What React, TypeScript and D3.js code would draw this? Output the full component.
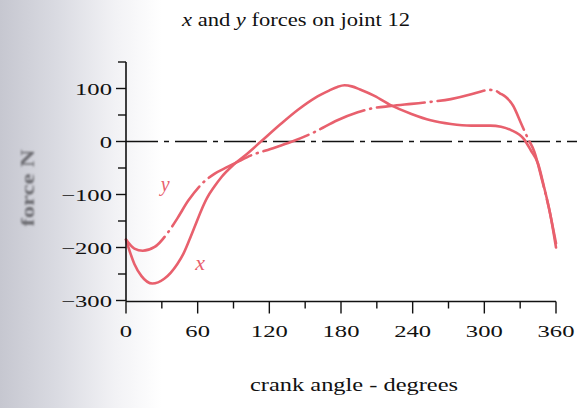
import React from 'react';
import * as d3 from 'd3';

// crank angle (deg) and force (N)
const xAngles = [0, 7, 13, 22, 32, 43, 48, 53, 58, 63, 68, 74, 80, 90, 102, 113, 130, 144, 158, 170, 177, 183, 189, 196, 208, 222, 239, 255, 272, 289, 305, 314, 322, 333, 339, 345, 350, 355, 360];
const xForce = [-185, -231, -254, -268, -259, -231, -212, -186, -158, -130, -106, -85, -67, -44, -22, 0, 34, 60, 82, 96, 103, 106, 104, 98, 86, 68, 52, 40, 33, 30, 30, 28, 22, 5, -17, -42, -86, -135, -200];

const yAngles = [0, 7, 14, 24, 35, 43, 52, 63, 74, 85, 93, 105, 121, 138, 158, 177, 194, 205, 222, 239, 256, 272, 289, 298, 304, 309, 313, 318, 324, 331, 336, 342, 348, 354, 360];
const yForce = [-185, -202, -206, -199, -172, -145, -112, -81, -61, -48, -39, -26, -14, -1, 18, 40, 55, 62, 67, 71, 75, 80, 89, 95, 97.5, 96, 91, 84, 68, 33, 8, -20, -70, -125, -192];

const xTicks = d3.range(0, 361, 30);
const xTickLabels = [0, 60, 120, 180, 240, 300, 360];
const yTicks = d3.range(-300, 151, 50);
const yTickLabels = [100, 0, -100, -200, -300];

const W = 577;
const H = 408;
const pink = '#e8606d';
const serif = '"Liberation Serif", "Times New Roman", serif';

export default function App() {
  const x = d3.scaleLinear().domain([0, 360]).range([126, 556]);
  const y = d3.scaleLinear().domain([-300, 150]).range([300.5, 62]);

  const line = d3.line<[number, number]>()
    .x(d => x(d[0]))
    .y(d => y(d[1]))
    .curve(d3.curveMonotoneX);

  const xPath = line(xAngles.map((a, i) => [a, xForce[i]] as [number, number])) || '';
  const yPath = line(yAngles.map((a, i) => [a, yForce[i]] as [number, number])) || '';

  const x0 = x(0);
  const yBase = y(-300);

  return (
    <svg width={W} height={H} style={{ position: 'absolute', left: 0, top: 0 }}>
      <defs>
        <linearGradient id="paper" x1="0" x2="1" y1="0" y2="0">
          <stop offset="0" stopColor="#c6c7d0" />
          <stop offset="0.1" stopColor="#dadbe2" />
          <stop offset="0.2" stopColor="#f2f2f5" />
          <stop offset="0.28" stopColor="#ffffff" />
        </linearGradient>
        <filter id="soft">
          <feGaussianBlur stdDeviation="0.8" />
        </filter>
      </defs>
      <rect width={W} height={H} fill="url(#paper)" />

      {/* title */}
      <text transform={`translate(296,25.5) scale(1.22,1)`} textAnchor="middle"
        fontFamily={serif} fontSize={18.5} fill="#111">
        <tspan fontStyle="italic">x</tspan> and <tspan fontStyle="italic">y</tspan> forces on joint 12
      </text>

      {/* zero line */}
      <line x1={x0} x2={x(378)} y1={y(0)} y2={y(0)} stroke="#111" strokeWidth={1.6}
        strokeDasharray="32 6 5 6" />

      {/* curves */}
      <path d={xPath} fill="none" stroke={pink} strokeWidth={2.6} strokeLinecap="round" />
      <path d={yPath} fill="none" stroke={pink} strokeWidth={2.6} strokeLinecap="round"
        strokeDasharray="48 6 1 6" />

      <text x={x(29)} y={y(-94)} fontFamily={serif} fontStyle="italic" fontSize={20} fill={pink}>y</text>
      <text x={x(58)} y={y(-243)} fontFamily={serif} fontStyle="italic" fontSize={22} fill={pink}>x</text>

      {/* y axis */}
      <line x1={x0} x2={x0} y1={y(150)} y2={yBase + 1} stroke="#111" strokeWidth={1.6} />
      {yTicks.map(t => (
        <line key={'yt' + t} x1={x0} x2={x0 - (t % 100 === 0 ? 10 : 8)} y1={y(t)} y2={y(t)}
          stroke="#111" strokeWidth={1.4} />
      ))}
      {yTickLabels.map(t => (
        <text key={'yl' + t} transform={`translate(112,${y(t) + 6}) scale(1.45,1)`} textAnchor="end"
          fontFamily={serif} fontSize={17} fill="#111">
          {t < 0 ? '\u2212' + Math.abs(t) : t}
        </text>
      ))}

      {/* x axis */}
      <line x1={x0} x2={x(360)} y1={yBase + 1} y2={yBase + 1} stroke="#111" strokeWidth={1.6} />
      {xTicks.map(t => (
        <line key={'xt' + t} x1={x(t)} x2={x(t)} y1={yBase + 1} y2={yBase + (t % 60 === 0 ? 13 : 8)}
          stroke="#111" strokeWidth={1.4} />
      ))}
      {xTickLabels.map(t => (
        <text key={'xl' + t} transform={`translate(${x(t)},${yBase + 36.5}) scale(1.45,1)`} textAnchor="middle"
          fontFamily={serif} fontSize={17} fill="#111">
          {t}
        </text>
      ))}

      <text transform={`translate(354,391) scale(1.32,1)`} textAnchor="middle"
        fontFamily={serif} fontSize={18.5} fill="#111">
        crank angle - degrees
      </text>

      <text transform={`translate(34,188) rotate(-90) scale(1.3,1)`} textAnchor="middle"
        fontFamily={serif} fontWeight="bold" fontSize={19} fill="#6b6b70" filter="url(#soft)">
        force N
      </text>
    </svg>
  );
}
